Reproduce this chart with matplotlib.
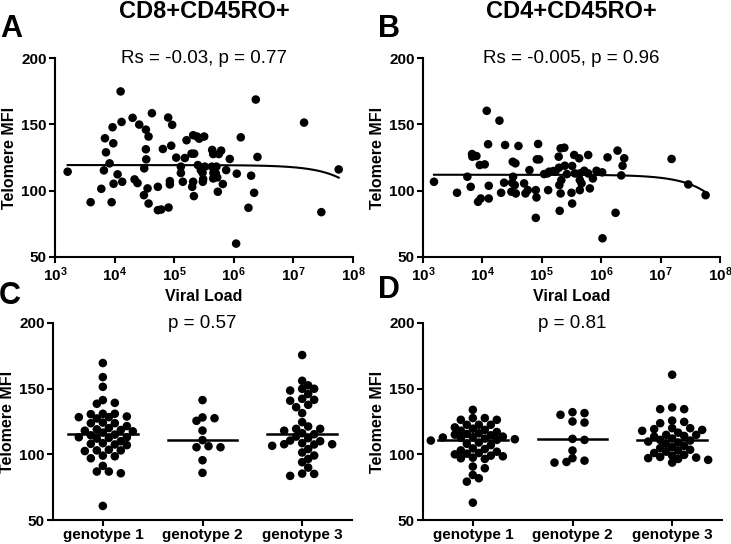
import numpy as np
import matplotlib
matplotlib.use("Agg")
import matplotlib.pyplot as plt
from matplotlib.ticker import FixedLocator, FuncFormatter

plt.rcParams['font.family'] = ['Liberation Sans', 'DejaVu Sans']
plt.rcParams['mathtext.fontset'] = 'custom'
plt.rcParams['mathtext.rm'] = 'Liberation Sans'
plt.rcParams['mathtext.bf'] = 'Liberation Sans:bold'

# ---------------- data ----------------
titles = ["CD8+CD45RO+", "CD4+CD45RO+"]
panel_letters = ["A", "B", "C", "D"]
stats_scatter = ["Rs = -0.03, p = 0.77", "Rs = -0.005, p = 0.96"]
stats_geno = ["p = 0.57", "p = 0.81"]
genotypes = ["genotype 1", "genotype 2", "genotype 3"]

# Panel A: log10(viral load), telomere MFI
a_logvl = [3.212, 3.598, 3.777, 3.821, 3.838, 3.855, 3.916, 3.950, 3.978, 3.966,
           3.983, 4.050, 4.101, 4.117, 4.128, 4.302, 4.335, 4.385, 4.413, 4.492,
           4.497, 4.525, 4.525, 4.531, 4.570, 4.553, 4.570, 4.626, 4.726, 4.726,
           4.782, 4.810, 4.899, 4.905, 4.927, 4.927, 4.950, 4.966, 5.034, 5.112,
           5.112, 5.145, 5.179, 5.207, 5.291, 5.318, 5.335, 5.302, 5.330, 5.318,
           5.385, 5.397, 5.419, 5.447, 5.475, 5.480, 5.503, 5.514, 5.486, 5.637,
           5.654, 5.631, 5.659, 5.654, 5.709, 5.698, 5.721, 5.749, 5.788, 5.732,
           5.816, 5.872, 5.933, 6.050, 6.039, 6.117, 6.246, 6.291, 6.341, 6.369,
           6.397, 7.179, 7.469, 7.760]
a_mfi = [114.3, 91.3, 101.4, 115.3, 139.5, 128.9, 120.6, 91.3, 135.7, 147.8,
         105.2, 112.3, 174.8, 151.8, 106.7, 154.9, 108.5, 105.7, 149.8, 96.6,
         116.8, 146.0, 131.2, 123.6, 140.8, 101.7, 90.3, 158.4, 102.9, 85.3,
         85.8, 131.4, 155.1, 87.3, 107.2, 104.7, 133.9, 149.6, 124.9, 118.1,
         113.3, 106.7, 124.6, 138.0, 127.9, 141.8, 127.9, 102.9, 95.9, 106.7,
         140.8, 119.3, 139.2, 115.5, 113.5, 106.7, 140.8, 118.1, 108.7, 130.7,
         127.6, 118.1, 113.3, 109.2, 118.1, 113.0, 110.0, 127.6, 130.2, 99.2,
         105.0, 115.5, 123.9, 112.8, 60.1, 140.2, 87.1, 111.3, 98.4, 168.7,
         125.4, 151.3, 83.8, 116.0]

# Panel B
b_logvl = [3.185, 3.573, 3.747, 3.803, 3.826, 3.831, 3.899, 3.927, 3.955, 3.972,
           4.039, 4.073, 4.096, 4.107, 4.107, 4.287, 4.315, 4.365, 4.382, 4.489,
           4.500, 4.511, 4.517, 4.545, 4.556, 4.562, 4.607, 4.702, 4.725, 4.764,
           4.792, 4.899, 4.899, 4.910, 4.916, 4.938, 4.955, 5.039, 5.096, 5.107,
           5.124, 5.194, 5.228, 5.284, 5.289, 5.295, 5.301, 5.317, 5.329, 5.317,
           5.379, 5.388, 5.423, 5.500, 5.511, 5.511, 5.545, 5.556, 5.629, 5.640,
           5.640, 5.640, 5.669, 5.714, 5.781, 5.781, 5.809, 5.860, 5.921, 6.017,
           6.022, 6.107, 6.242, 6.275, 6.337, 6.360, 6.388, 7.185, 7.466, 7.758]
b_mfi = [106.7, 98.4, 110.5, 102.9, 127.6, 125.6, 126.1, 91.6, 119.3, 94.1,
         119.8, 160.2, 135.0, 103.7, 94.1, 152.8, 98.4, 106.0, 134.4, 99.2,
         106.0, 121.8, 110.5, 104.2, 120.6, 97.9, 133.7, 105.5, 97.9, 100.4,
         115.5, 79.5, 100.4, 94.9, 123.6, 135.2, 123.6, 112.5, 113.0, 100.4,
         114.3, 114.8, 114.3, 125.6, 117.3, 104.2, 84.8, 131.9, 108.0, 97.9,
         132.4, 118.8, 112.5, 98.4, 118.6, 90.3, 126.9, 113.0, 124.4, 113.0,
         108.0, 100.4, 105.5, 115.0, 113.0, 126.9, 101.7, 109.2, 115.0, 113.8,
         64.1, 125.1, 83.3, 130.2, 111.5, 118.8, 124.4, 123.9, 104.7, 96.6]

# linear fits (intercept, slope per copy)
fit_a = (119.3, -1.65e-7)
fit_b = (112.0, -2.3e-7)

# Panel C (CD8) by genotype
c_g1 = [169.5, 158.8, 151.4, 141.3, 138.5, 139.2, 127.3, 130.6, 130.9, 128.3,
        130.9, 128.3, 128.8, 123.7, 124.2, 123.7, 121.5, 119.0, 118.5, 120.0,
        117.5, 116.5, 118.0, 115.0, 114.5, 113.0, 112.5, 113.0, 112.0, 110.0,
        108.0, 107.5, 108.5, 107.0, 103.5, 103.0, 102.5, 103.0, 99.0, 98.5,
        97.0, 91.2, 86.9, 85.6, 86.9, 60.7]
c_g2 = [141.3, 127.5, 125.5, 128.1, 118.1, 110.8, 106.2, 105.4, 105.4, 95.5, 85.9]
c_g3 = [175.6, 152.5, 145.9, 149.9, 149.9, 156.0, 148.6, 141.5, 137.7, 140.8,
        142.3, 135.9, 131.4, 124.5, 119.4, 121.2, 118.0, 116.1, 115.3, 119.4,
        113.5, 112.3, 110.5, 110.0, 108.5, 107.5, 107.7, 106.5, 107.7, 104.0,
        101.4, 99.1, 96.5, 89.9, 94.0, 85.1, 85.3, 83.6]

# Panel D (CD4) by genotype
d_g1 = [133.9, 127.6, 127.6, 126.3, 126.3, 122.5, 122.5, 122.5, 120.5, 119.5,
        118.6, 118.0, 117.0, 116.0, 115.0, 114.5, 113.5, 113.0, 112.5, 112.0,
        111.5, 111.0, 110.5, 109.0, 108.0, 107.0, 115.5, 112.8, 104.5, 104.0,
        103.0, 102.0, 101.0, 100.5, 100.0, 99.0, 98.5, 97.5, 97.0, 96.5,
        90.7, 89.4, 84.3, 81.8, 79.2, 63.2]
d_g2 = [132.1, 130.1, 124.2, 125.0, 131.4, 111.0, 111.8, 102.9, 95.2, 93.7, 94.2, 97.1]
d_g3 = [160.6, 135.7, 134.4, 134.4, 125.7, 124.7, 123.7, 118.6, 119.2, 119.9,
        119.9, 117.9, 114.8, 114.8, 114.0, 113.5, 111.0, 110.5, 109.7, 109.0,
        106.4, 105.5, 104.7, 103.5, 102.9, 102.0, 99.6, 99.0, 97.1, 97.5,
        96.5, 95.8, 93.7, 98.0, 101.0, 108.0, 112.0, 116.5]

# ---------------- figure ----------------
W, H = 731, 544
fig = plt.figure(figsize=(W / 100, H / 100), dpi=100)


def px_axes(l, r, t, b):
    return fig.add_axes([l / W, 1 - b / H, (r - l) / W, (b - t) / H])


axA = px_axes(55, 353, 58, 257)
axB = px_axes(423, 720, 58, 257)
axC = px_axes(53, 352, 323, 520)
axD = px_axes(423, 722, 323, 520)

MS = 38  # scatter marker size (pt^2)
TICK_FS = 11
LABEL_FS = 11.5
STAT_FS = 13.5


def style_axes(ax):
    for s in ['top', 'right']:
        ax.spines[s].set_visible(False)
    for s in ['left', 'bottom']:
        ax.spines[s].set_linewidth(1.5)
        ax.spines[s].set_color('black')
    ax.tick_params(direction='out', length=4, width=1.5, colors='black',
                   labelsize=TICK_FS, pad=2)
    ax.set_ylim(50, 200)
    ax.set_yticks([50, 100, 150, 200])
    ax.set_yticklabels(['50', '100', '150', '200'], fontweight='bold',
                       fontsize=TICK_FS)
    ax.set_ylabel('Telomere MFI', fontsize=LABEL_FS, fontweight='bold',
                  labelpad=3)


def scatter_panel(ax, logvl, mfi, fit, stat):
    vl = 10 ** np.array(logvl)
    ax.set_xscale('log')
    ax.scatter(vl, mfi, s=MS, color='black', edgecolors='none', zorder=3)
    xf = np.logspace(np.log10(vl.min()), np.log10(vl.max()), 300)
    ax.plot(xf, fit[0] + fit[1] * xf, color='black', lw=1.5, zorder=2)
    ax.set_xlim(1e3, 1e8)
    style_axes(ax)
    ax.xaxis.set_major_locator(FixedLocator([1e3, 1e4, 1e5, 1e6, 1e7, 1e8]))
    ax.xaxis.set_minor_locator(FixedLocator([]))
    ax.xaxis.set_major_formatter(FuncFormatter(
        lambda v, p: r'$\mathbf{10^{%d}}$' % int(round(np.log10(v)))))
    ax.set_xlabel('Viral Load', fontsize=LABEL_FS, fontweight='bold',
                  labelpad=4)
    ax.text(0.5, 1.0, stat, transform=ax.transAxes, ha='center', va='center',
            fontsize=STAT_FS)


def swarm_x(ax, vals, center, step_px=6.0, diam_px=6.8):
    order = np.argsort(vals)[::-1]
    placed = []
    xs = np.zeros(len(vals))
    c_px, _ = ax.transData.transform((center, 100))
    cands = [0]
    for j in range(1, 40):
        cands += [j, -j]
    for i in order:
        _, y_px = ax.transData.transform((center, vals[i]))
        for k in cands:
            x_px = c_px + k * step_px
            if all(np.hypot(x_px - px, y_px - py) >= diam_px for px, py in placed):
                break
        placed.append((x_px, y_px))
        xs[i] = ax.transData.inverted().transform((x_px, y_px))[0]
    return xs


def geno_panel(ax, groups, stat):
    ax.set_xlim(0.5, 3.5)
    style_axes(ax)
    ax.set_xticks([1, 2, 3])
    ax.set_xticklabels(genotypes, fontweight='bold', fontsize=TICK_FS)
    for gi, vals in enumerate(groups):
        vals = np.array(vals)
        xs = swarm_x(ax, vals, gi + 1)
        ax.scatter(xs, vals, s=MS, color='black', edgecolors='none', zorder=3)
        med = np.median(vals)
        ax.plot([gi + 1 - 0.35, gi + 1 + 0.35], [med, med], color='black',
                lw=1.8, zorder=4)
    ax.text(0.5, 1.0, stat, transform=ax.transAxes, ha='center', va='center',
            fontsize=STAT_FS)


scatter_panel(axA, a_logvl, a_mfi, fit_a, stats_scatter[0])
scatter_panel(axB, b_logvl, b_mfi, fit_b, stats_scatter[1])
geno_panel(axC, [c_g1, c_g2, c_g3], stats_geno[0])
geno_panel(axD, [d_g1, d_g2, d_g3], stats_geno[1])

# titles and panel letters
fig.text(204 / W, 1 - 12 / H, titles[0], ha='center', va='center',
         fontsize=17, fontweight='bold')
fig.text(571 / W, 1 - 12 / H, titles[1], ha='center', va='center',
         fontsize=17, fontweight='bold')
for (x, y), letter in zip([(11, 29), (389, 29), (10, 296), (389, 290)],
                          panel_letters):
    fig.text(x / W, 1 - y / H, letter, ha='center', va='center',
             fontsize=22, fontweight='bold')

fig.savefig('out.png', dpi=100)
